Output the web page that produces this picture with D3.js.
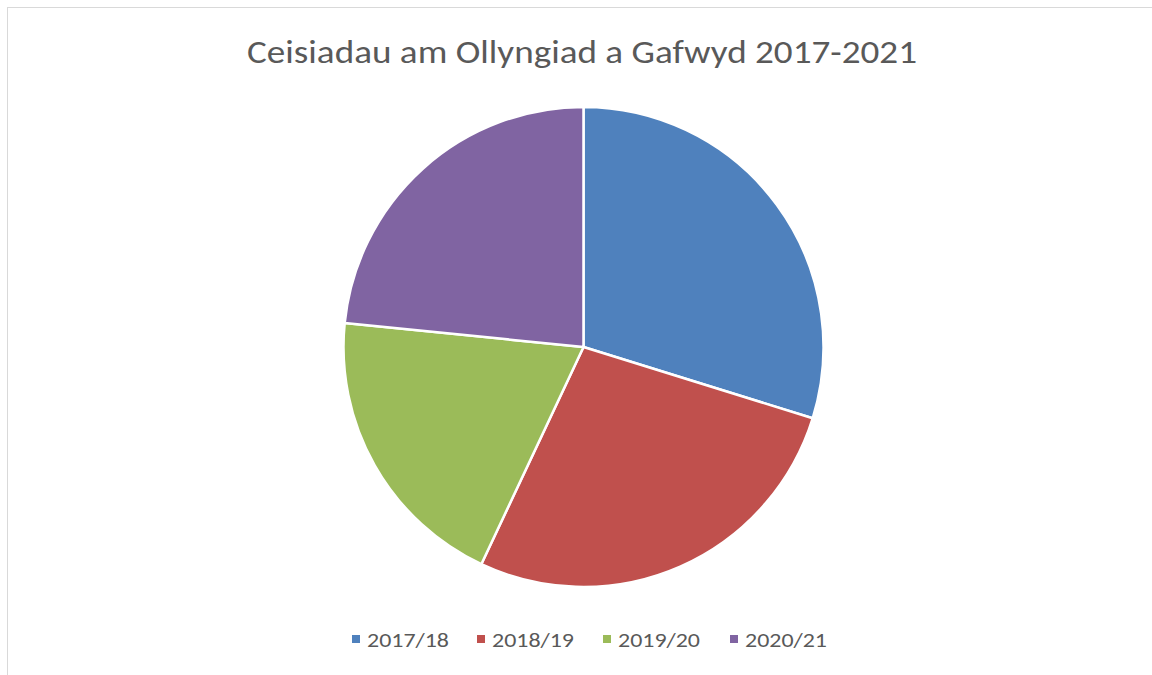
<!DOCTYPE html>
<html>
<head>
<meta charset="utf-8">
<script src="https://cdn.jsdelivr.net/npm/d3@7"></script>
<style>
html,body{margin:0;padding:0;background:#fff;}
svg{display:block;}
</style>
</head>
<body>
<svg id="chart" width="1152" height="675"></svg>
<script>
const categories = ["2017/18", "2018/19", "2019/20", "2020/21"];
const values = [29.8, 27.2, 19.6, 23.4];
const colors = ["#4F81BD", "#C0504D", "#9BBB59", "#8064A2"];
const title = "Ceisiadau am Ollyngiad a Gafwyd 2017-2021";

const svg = d3.select("#chart");
const W = 1152, H = 675;
const font = "Carlito, Calibri, 'Open Sans', 'Liberation Sans', sans-serif";

// chart border
svg.append("rect").attr("x", 7.5).attr("y", 7.5).attr("width", W).attr("height", H)
  .attr("fill", "#fff").attr("stroke", "#d9d9d9").attr("stroke-width", 1);

// title
svg.append("text").attr("x", 582).attr("y", 63).attr("text-anchor", "middle")
  .attr("font-family", font).attr("font-size", 32).attr("fill", "#595959")
  .attr("textLength", 670).attr("lengthAdjust", "spacingAndGlyphs")
  .text(title);

// pie
const cx = 583.5, cy = 347, r = 240;
const color = d3.scaleOrdinal().domain(categories).range(colors);
const pie = d3.pie().sort(null).value(d => d.v);
const arc = d3.arc().innerRadius(0).outerRadius(r);
const data = categories.map((c, i) => ({c, v: values[i]}));
svg.append("g").attr("transform", `translate(${cx},${cy})`)
  .selectAll("path").data(pie(data)).join("path")
  .attr("d", arc).attr("fill", d => color(d.data.c))
  .attr("stroke", "#fff").attr("stroke-width", 2.5).attr("stroke-linejoin", "round");

// legend
const legendX = [352, 477, 603, 730];
const lg = svg.append("g");
categories.forEach((c, i) => {
  lg.append("rect").attr("x", legendX[i]).attr("y", 635).attr("width", 8).attr("height", 8)
    .attr("fill", color(c));
  lg.append("text").attr("x", legendX[i] + 15).attr("y", 647)
    .attr("font-family", font).attr("font-size", 20).attr("fill", "#595959")
    .attr("textLength", 82).attr("lengthAdjust", "spacingAndGlyphs")
    .text(c);
});
</script>
</body>
</html>
